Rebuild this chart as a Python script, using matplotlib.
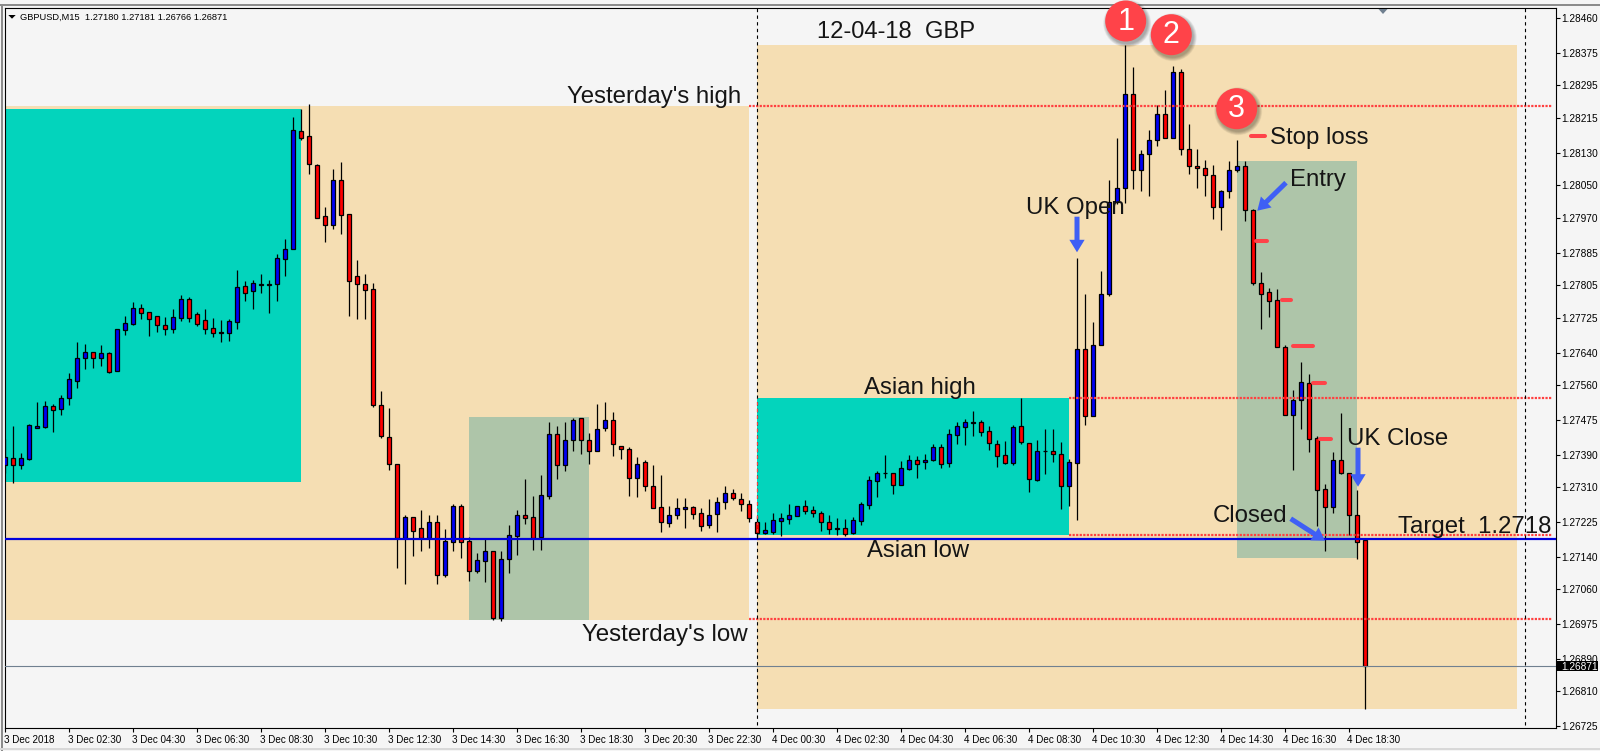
import numpy as np
import matplotlib

matplotlib.use('Agg')
import matplotlib.pyplot as plt
from matplotlib.patches import Circle, FancyArrowPatch, Polygon, Rectangle
from matplotlib.transforms import ScaledTranslation

plt.rcParams['font.family'] = ['Liberation Sans', 'DejaVu Sans']

# --- candle data, GBPUSD M15, in points (1e-5) ---
opens = [
    127365, 127381, 127365, 127380, 127456, 127458, 127508, 127503, 127530, 127571,
    127628, 127641, 127628, 127638, 127596, 127696, 127711, 127749, 127739, 127731,
    127709, 127699, 127726, 127771, 127734, 127719, 127700, 127690, 127687, 127716,
    127803, 127790, 127807, 127807, 127809, 127870, 127895, 128183, 128170, 128099,
    127974, 127954, 128063, 127979, 127827, 127808, 127795, 127511, 127432, 127368,
    127186, 127238, 127209, 127185, 127226, 127095, 127176, 127265, 127177, 127105,
    127130, 127153, 126990, 127135, 127191, 127241, 127236, 127189, 127289, 127440,
    127365, 127425, 127479, 127425, 127400, 127456, 127476, 127410, 127405, 127333,
    127373, 127314, 127261, 127223, 127243, 127257, 127261, 127246, 127218, 127245,
    127273, 127295, 127280, 127270, 127224, 127198, 127201, 127228, 127233, 127240,
    127263, 127253, 127246, 127226, 127208, 127209, 127198, 127228, 127267, 127326,
    127345, 127346, 127316, 127355, 127378, 127371, 127377, 127408, 127369, 127439,
    127458, 127468, 127471, 127447, 127415, 127388, 127370, 127459, 127418, 127328,
    127399, 127400, 127391, 127314, 127370, 127648, 127485, 127659, 127785, 128010,
    128043, 128274, 128087, 128128, 128161, 128224, 128166, 128327, 128139, 128097,
    128092, 128075, 127996, 128036, 128087, 128097, 127989, 127810, 127788, 127768,
    127655, 127488, 127525, 127565, 127430, 127305, 127262, 127376, 127346, 127243,
    127180,
]
highs = [
    127428, 127460, 127393, 127465, 127519, 127521, 127514, 127536, 127589, 127666,
    127661, 127641, 127659, 127642, 127697, 127730, 127764, 127759, 127739, 127731,
    127727, 127747, 127781, 127776, 127740, 127747, 127725, 127720, 127722, 127843,
    127816, 127818, 127833, 127818, 127882, 127919, 128218, 128238, 128250, 128103,
    127997, 128090, 128108, 127979, 127867, 127833, 127811, 127546, 127504, 127368,
    127243, 127238, 127253, 127242, 127243, 127207, 127270, 127268, 127188, 127150,
    127185, 127153, 127153, 127217, 127253, 127330, 127288, 127340, 127471, 127459,
    127470, 127481, 127481, 127442, 127514, 127519, 127494, 127411, 127409, 127383,
    127376, 127364, 127340, 127265, 127283, 127283, 127264, 127258, 127281, 127286,
    127312, 127306, 127296, 127278, 127239, 127224, 127246, 127246, 127270, 127265,
    127279, 127263, 127251, 127243, 127234, 127231, 127236, 127275, 127337, 127350,
    127389, 127346, 127374, 127389, 127386, 127391, 127415, 127415, 127452, 127469,
    127477, 127497, 127476, 127460, 127425, 127423, 127462, 127529, 127419, 127426,
    127452, 127452, 127422, 127379, 127872, 127784, 127715, 127840, 128063, 128166,
    128395, 128341, 128136, 128185, 128247, 128284, 128342, 128335, 128200, 128139,
    128112, 128100, 128039, 128110, 128162, 128110, 127992, 127838, 127798, 127796,
    127659, 127548, 127617, 127587, 127435, 127318, 127396, 127492, 127346, 127303,
    127181,
]
lows = [
    127344, 127321, 127355, 127377, 127456, 127455, 127445, 127487, 127512, 127553,
    127600, 127602, 127607, 127590, 127596, 127683, 127708, 127722, 127681, 127691,
    127683, 127688, 127718, 127715, 127705, 127686, 127678, 127666, 127669, 127698,
    127767, 127747, 127786, 127737, 127767, 127828, 127895, 128162, 128078, 127969,
    127911, 127943, 127931, 127730, 127722, 127722, 127507, 127431, 127352, 127112,
    127072, 127141, 127153, 127161, 127072, 127090, 127153, 127136, 127080, 127100,
    127077, 126984, 126983, 127099, 127144, 127220, 127156, 127156, 127281, 127330,
    127350, 127399, 127391, 127367, 127400, 127448, 127386, 127379, 127288, 127286,
    127302, 127258, 127200, 127212, 127232, 127210, 127232, 127202, 127210, 127200,
    127256, 127279, 127252, 127225, 127187, 127195, 127195, 127190, 127220, 127239,
    127244, 127237, 127202, 127195, 127193, 127190, 127195, 127217, 127256, 127286,
    127332, 127293, 127316, 127352, 127332, 127355, 127374, 127357, 127359, 127416,
    127413, 127435, 127435, 127401, 127359, 127367, 127364, 127416, 127298, 127325,
    127342, 127372, 127256, 127264, 127230, 127462, 127485, 127659, 127780, 128005,
    128007, 128041, 128036, 128024, 128147, 128166, 128166, 128125, 128078, 128044,
    128024, 127968, 127941, 128019, 128084, 127963, 127806, 127698, 127727, 127655,
    127488, 127352, 127453, 127396, 127215, 127153, 127247, 127342, 127193, 127135,
    126766,
]
closes = [
    127383, 127365, 127381, 127462, 127459, 127508, 127500, 127530, 127575, 127628,
    127641, 127628, 127638, 127593, 127697, 127712, 127749, 127736, 127723, 127709,
    127699, 127727, 127771, 127726, 127711, 127699, 127687, 127687, 127717, 127800,
    127787, 127810, 127808, 127808, 127871, 127893, 128185, 128167, 128102, 127971,
    127954, 128063, 127978, 127816, 127808, 127794, 127512, 127436, 127368, 127185,
    127238, 127203, 127186, 127226, 127096, 127177, 127263, 127176, 127105, 127131,
    127153, 126990, 127133, 127192, 127241, 127235, 127186, 127290, 127440, 127365,
    127425, 127476, 127426, 127400, 127454, 127476, 127415, 127404, 127333, 127366,
    127314, 127260, 127225, 127243, 127258, 127261, 127245, 127216, 127243, 127273,
    127295, 127283, 127270, 127234, 127198, 127204, 127229, 127234, 127241, 127263,
    127252, 127246, 127225, 127208, 127209, 127196, 127229, 127268, 127327, 127346,
    127346, 127316, 127356, 127378, 127368, 127376, 127408, 127368, 127440, 127459,
    127469, 127469, 127446, 127418, 127387, 127370, 127457, 127420, 127329, 127400,
    127400, 127391, 127312, 127373, 127648, 127485, 127658, 127785, 128010, 128043,
    128274, 128087, 128126, 128161, 128224, 128166, 128327, 128139, 128097, 128092,
    128075, 127996, 128036, 128087, 128097, 127989, 127810, 127785, 127767, 127655,
    127488, 127525, 127567, 127429, 127304, 127262, 127376, 127346, 127243, 127176,
    126871,
]

price_ticks = [
    1.28460, 1.28375, 1.28295, 1.28215, 1.28130, 1.28050, 1.27970, 1.27885, 1.27805, 1.27725, 1.27640,
    1.27560, 1.27475, 1.27390, 1.27310, 1.27225, 1.27140, 1.27060, 1.26975, 1.26890, 1.26810, 1.26725,
]
time_labels = [
    '3 Dec 2018', '3 Dec 02:30', '3 Dec 04:30', '3 Dec 06:30', '3 Dec 08:30', '3 Dec 10:30',
    '3 Dec 12:30', '3 Dec 14:30', '3 Dec 16:30', '3 Dec 18:30', '3 Dec 20:30', '3 Dec 22:30',
    '4 Dec 00:30', '4 Dec 02:30', '4 Dec 04:30', '4 Dec 06:30', '4 Dec 08:30', '4 Dec 10:30',
    '4 Dec 12:30', '4 Dec 14:30', '4 Dec 16:30', '4 Dec 18:30',
]

# session boxes: first bar, last bar, low price, high price
beige_boxes = [(0, 93, 1.26984, 1.28245), (94, 189, 1.26766, 1.28395)]
teal_boxes = [(0, 37, 1.27323, 1.28238), (94, 133, 1.27193, 1.27529)]
green_boxes = [(58, 73, 1.26984, 1.27482), (154, 169, 1.27137, 1.28110)]

# dotted levels: price, first bar
levels = [(1.28245, 93), (1.27529, 133), (1.27193, 133), (1.26987, 93)]
target_price = 1.27183
last_price = 1.26871

BLUE = '#0000F5'
RED = '#FF0000'
MARK = '#FF4349'
ARROW = '#3F5FF5'
BG = '#F5F5F5'
TEXT = '#151515'

W, H = 1600, 751
L_PX, R_PX, T_PX, B_PX = 4.67, 1555.7, 8.0, 728.3

fig = plt.figure(figsize=(W / 100, H / 100), dpi=100, facecolor=BG)
ax = fig.add_axes([L_PX / W, 1 - B_PX / H, (R_PX - L_PX) / W, (B_PX - T_PX) / H], facecolor=BG)
ax.set_xlim(-0.0825, 193.8)
ax.set_ylim(1.26719, 1.28485)

# --- session boxes ---
for boxes, col, z in [(beige_boxes, '#F5DEB3', 1), (teal_boxes, '#03D4BC', 2), (green_boxes, '#AEC5A9', 2)]:
    for x0, x1, lo, hi in boxes:
        start = max(x0, -0.0825)
        ax.add_patch(Rectangle((start, lo), x1 - start, hi - lo, facecolor=col, edgecolor='none', zorder=z))

# --- candles ---
o = np.array(opens) / 1e5
h = np.array(highs) / 1e5
l = np.array(lows) / 1e5
c = np.array(closes) / 1e5
x = np.arange(len(o))
up = c >= o
ax.vlines(x, l, h, color='black', linewidth=0.9, zorder=3)
ax.bar(x[up], (c - o)[up], bottom=o[up], width=0.5, color=BLUE, edgecolor='black', linewidth=0.9, zorder=4)
ax.bar(x[~up], (o - c)[~up], bottom=c[~up], width=0.5, color=RED, edgecolor='black', linewidth=0.9, zorder=4)

# --- lines ---
for price, first in levels:
    ax.plot([first, 193.3], [price, price], color='#FF4040', linewidth=1.6, linestyle=(0, (1, 0.6)), zorder=5)
ax.axhline(target_price, color='#0000DC', linewidth=1.6, zorder=6)
ax.axhline(last_price, color='#708090', linewidth=0.8, zorder=6)
for bar in [94, 190]:
    ax.plot([bar, bar], [1.26726, 1.28485], color='black', linewidth=0.8, linestyle=(0, (3, 3)), zorder=6)
ax.plot([94, 94], [1.27193, 1.27529], color='#FF4040', linewidth=0.8, linestyle=(3, (3, 3)), zorder=6)

# --- axes ---
ax.yaxis.tick_right()
ax.set_yticks(price_ticks)
ax.set_yticklabels([f'{p:.5f}' for p in price_ticks])
ax.set_xticks(np.arange(len(time_labels)) * 8)
ax.set_xticklabels(time_labels, ha='left')
ax.tick_params(axis='y', length=3, width=0.8, pad=1.2, labelsize=7.3, colors='black')
ax.tick_params(axis='x', length=3, width=0.8, pad=2, labelsize=7.1, colors='black')
nudge = ScaledTranslation(-1.3 / 72, 0, fig.dpi_scale_trans)
for t in ax.get_xticklabels():
    t.set_transform(t.get_transform() + nudge)
for s in ax.spines.values():
    s.set_linewidth(0.8)

# --- overlay in picture pixels for the hand drawn notes ---
ov = fig.add_axes([0, 0, 1, 1], facecolor='none')
ov.set_xlim(0, W)
ov.set_ylim(H, 0)
ov.axis('off')

ov.add_patch(Rectangle((0, 4), W, 2, facecolor='#8C8C8C', edgecolor='none'))
ov.add_patch(Rectangle((1, 4), 1.8, H - 4, facecolor='#8C8C8C', edgecolor='none'))
ov.add_patch(Rectangle((0, 748), W, 1.5, facecolor='#D8D8D8', edgecolor='none'))
ov.add_patch(Polygon([(8.3, 15), (15.7, 15), (12, 18.7)], facecolor='black', edgecolor='none'))
ov.add_patch(Polygon([(1378.5, 9), (1387.5, 9), (1383, 14)], facecolor='#708090', edgecolor='none'))
ov.text(20, 20, 'GBPUSD,M15  1.27180 1.27181 1.26766 1.26871', fontsize=6.7, color='black')

ov.add_patch(Rectangle((1557.3, 660.7), 40.4, 10.6, facecolor='black', edgecolor='none'))
ov.text(1561.7, 669.5, f'{last_price:.5f}', fontsize=7.3, color='white')

notes = [
    ('12-04-18  GBP', 817, 37.8, 17.1),
    ("Yesterday's high", 567.3, 103, 17.3),
    ("Yesterday's low", 581.7, 640.7, 17.4),
    ('Asian high', 864, 394, 17.3),
    ('Asian low', 866.7, 556.7, 17.2),
    ('UK Open', 1026.5, 214, 17.3),
    ('Entry', 1290, 185.7, 17.3),
    ('Stop loss', 1270, 144, 17.3),
    ('UK Close', 1347.2, 445, 17.3),
    ('Closed', 1213, 521.7, 17.3),
    ('Target  1.2718', 1398.3, 532.7, 17.3),
]
for txt, px, py, size in notes:
    ov.text(px, py, txt, fontsize=size, color=TEXT, va='baseline', ha='left')

# red stop marks
for x0, x1, py in [(1251, 1265, 135.7), (1256, 1267, 240.7), (1281.7, 1291, 299.7),
                   (1292.7, 1312.7, 345.7), (1312.7, 1324.7, 382.7), (1320.3, 1330.7, 438.7)]:
    ov.plot([x0, x1], [py, py], color=MARK, linewidth=2.9, solid_capstyle='round')

# blue arrows
for start, end in [((1077, 216.7), (1077, 252.3)), ((1286, 182.7), (1257.3, 210.7)),
                   ((1290.7, 518.7), (1325, 540.7)), ((1358, 447.7), (1358, 486.7))]:
    ov.add_patch(FancyArrowPatch(start, end, arrowstyle='simple,head_length=9,head_width=11,tail_width=3.6',
                                 mutation_scale=1, color=ARROW, linewidth=0, shrinkA=0, shrinkB=0))

# numbered badges with soft shadow
for num, px, py in [('1', 1125.7, 21), ('2', 1171.3, 34.7), ('3', 1236.7, 108.7)]:
    for k in range(8):
        ov.add_patch(Circle((px + 1.5, py + 2.5), 20.5 + 3.5 - k * 0.5, facecolor='black', edgecolor='none', alpha=0.045))
    ov.add_patch(Circle((px, py), 20.5, facecolor=MARK, edgecolor='none'))
    ov.text(px, py + 0.5, num, fontsize=22, color='white', ha='center', va='center')

fig.savefig('out.png', dpi=100, facecolor=BG)
